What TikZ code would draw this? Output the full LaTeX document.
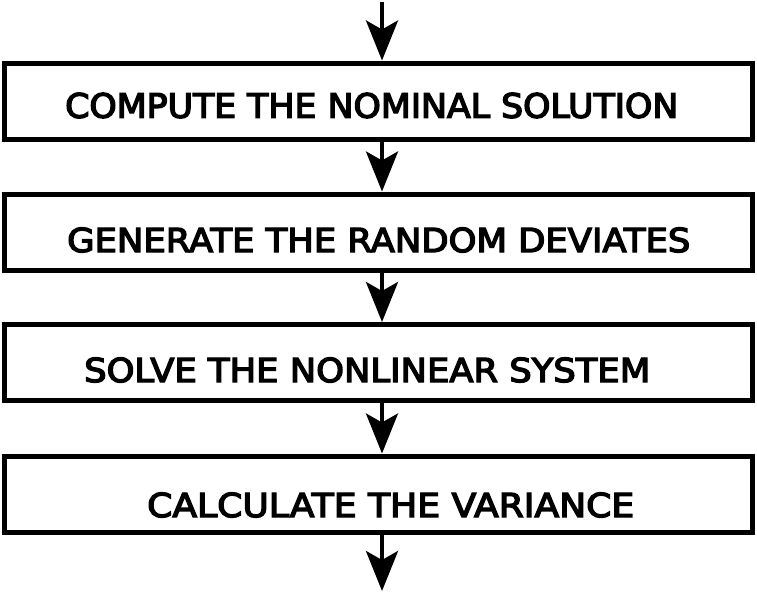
\documentclass[tikz,border=0pt]{standalone}
\usepackage{fontspec}
\usetikzlibrary{arrows.meta}
\newfontfamily\lab[FakeBold=4]{DejaVu Sans}
\tikzset{
 stepbox/.style={draw=black, line width=5pt, minimum width=748pt, minimum height=76pt, inner sep=0pt},
 flow/.style={line width=4pt, -{Stealth[length=40pt 0 0,width=32pt 0 0,inset=9pt 0]}},
 lbl/.style={inner sep=0pt, anchor=west}
}
\newcommand{\boxtext}[3]{\resizebox{#1pt}{#2pt}{\lab #3}}
\begin{document}
\begin{tikzpicture}[x=1pt,y=-1pt]
\useasboundingbox (0,0) rectangle (757,592);
\node[stepbox] (b1) at (378,101) {};
\node[stepbox] (b2) at (378,232) {};
\node[stepbox] (b3) at (378,362.5) {};
\node[stepbox] (b4) at (378,494) {};
\node[lbl] (t1) at (65,105.5) {\boxtext{613}{25}{COMPUTE THE NOMINAL SOLUTION}};
\node[lbl] (t2) at (67,240) {\boxtext{623}{24.5}{GENERATE THE RANDOM DEVIATES}};
\node[lbl] (t3) at (84,370) {\boxtext{566}{24.5}{SOLVE THE NONLINEAR SYSTEM}};
\node[lbl] (t4) at (147,505) {\boxtext{487}{24.5}{CALCULATE THE VARIANCE}};
\coordinate (a0) at (382,2);
\coordinate (a5) at (382,591);
\draw[flow] (a0) -- (b1.north -| a0);
\draw[flow] (b1.south -| a0) -- (b2.north -| a0);
\draw[flow] (b2.south -| a0) -- (b3.north -| a0);
\draw[flow] (b3.south -| a0) -- (b4.north -| a0);
\draw[flow] (b4.south -| a0) -- (a5);
\end{tikzpicture}
\end{document}
